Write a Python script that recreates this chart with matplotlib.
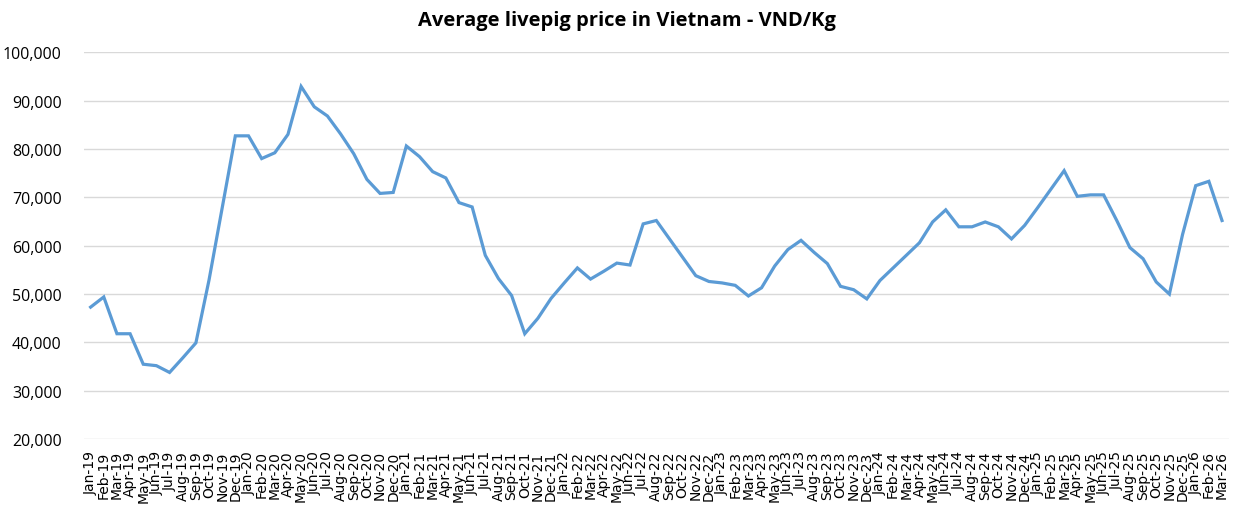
import matplotlib
matplotlib.use("Agg")
import matplotlib.pyplot as plt
from matplotlib.ticker import FuncFormatter

# month labels Jan-19 .. Mar-26
months = ["Jan", "Feb", "Mar", "Apr", "May", "Jun",
          "Jul", "Aug", "Sep", "Oct", "Nov", "Dec"]
labels = [f"{m}-{y}" for y in range(19, 27) for m in months][:87]

prices = [
    47300, 49400, 41800, 41800, 35500, 35200, 33800, 36800, 39900, 52900, 67800, 82700,   # 2019
    82700, 78000, 79200, 83000, 92900, 88700, 86800, 83100, 79000, 73700, 70800, 71000,   # 2020
    80600, 78400, 75300, 74000, 68900, 68000, 58000, 53200, 49700, 41800, 45000, 49100,   # 2021
    52300, 55400, 53100, 54700, 56400, 56000, 64500, 65200, 61400, 57600, 53800, 52600,   # 2022
    52300, 51800, 49600, 51300, 55800, 59200, 61100, 58600, 56300, 51600, 50900, 49000,   # 2023
    52800, 55400, 58000, 60600, 64900, 67400, 63900, 63900, 64900, 63900, 61400, 64200,   # 2024
    67900, 71700, 75500, 70200, 70500, 70500, 65200, 59600, 57300, 52500, 50000, 62300,   # 2025
    72400, 73300, 65200,                                                                  # 2026
]

fig = plt.figure(figsize=(12.36, 5.06), dpi=100)
ax = fig.add_axes([0.068, 0.130, 0.926, 0.765])

x = list(range(len(prices)))
ax.plot(x, prices, color="#5B9BD5", linewidth=2.3, solid_joinstyle="miter")

ax.set_xlim(-0.5, len(prices) - 0.5)
ax.set_ylim(20000, 100000)
ax.set_yticks(range(20000, 100001, 10000))
ax.yaxis.set_major_formatter(FuncFormatter(lambda v, p: f"{int(v):,}"))
ax.set_xticks(x)
ax.set_xticklabels(labels, rotation=90, fontsize=10, family="DejaVu Sans")
for t in ax.get_yticklabels():
    t.set_family("Open Sans")
    t.set_fontsize(11.5)

ax.grid(axis="y", color="#D9D9D9", linewidth=1)
ax.set_axisbelow(True)
for s in ax.spines.values():
    s.set_visible(False)
ax.tick_params(axis="both", length=0, colors="#000000")
ax.tick_params(axis="x", pad=8)
ax.tick_params(axis="y", pad=16)

fig.text(0.5075, 0.949, "Average livepig price in Vietnam - VND/Kg",
         ha="center", va="baseline", fontsize=14.5, fontweight="bold", family="Open Sans")

fig.savefig("out.png", dpi=100)
